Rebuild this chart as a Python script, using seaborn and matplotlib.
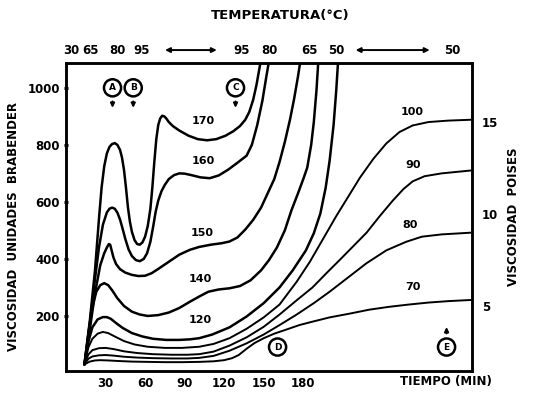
import numpy as np
import pandas as pd
import matplotlib
matplotlib.use("Agg")
import matplotlib.pyplot as plt
import seaborn as sns

# Brabender viscosity curves (time in min, viscosity in Brabender units)
t170 = [14, 18, 22, 25, 27, 29, 31, 33, 35, 37, 39, 41, 42.5, 44, 45.5, 47, 48.5, 50, 52, 54, 56, 58, 60, 62, 64, 65.5, 67, 68.5, 70, 71.5, 73, 74.5, 76, 78, 81, 86, 93, 100, 107, 114, 121, 127, 132, 136, 139, 142, 144.5, 147, 149]
v170 = [30, 180, 360, 540, 650, 725, 770, 793, 803, 806, 800, 782, 755, 712, 650, 580, 530, 495, 466, 452, 450, 458, 478, 515, 575, 650, 740, 820, 870, 893, 902, 900, 893, 880, 866, 850, 832, 820, 816, 820, 832, 848, 866, 888, 915, 958, 1010, 1075, 1130]

t160 = [14, 18, 22, 25, 28, 31, 33, 35, 37, 39, 41, 43, 45, 47.5, 50, 53, 56, 59, 61.5, 64, 66, 68, 70, 72.5, 75, 78, 82, 86, 90, 95, 102, 109, 116, 123, 130, 137, 141, 145, 149, 152, 155]
v160 = [30, 170, 330, 440, 520, 563, 576, 580, 576, 562, 538, 505, 470, 433, 410, 396, 392, 400, 420, 460, 510, 565, 605, 638, 660, 680, 694, 700, 699, 694, 686, 683, 693, 713, 737, 762, 800, 868, 955, 1040, 1120]

t150 = [14, 18, 22, 26, 29, 31, 32.5, 33.5, 34.5, 36, 38, 41, 45, 50, 55, 60, 65, 70, 78, 86, 94, 101, 110, 118, 124, 130, 136, 142, 148, 153, 158, 162, 166, 170, 173, 176, 178]
v150 = [30, 150, 280, 378, 420, 440, 452, 450, 432, 405, 382, 364, 352, 344, 340, 341, 350, 365, 390, 415, 432, 442, 450, 455, 461, 475, 503, 537, 580, 630, 680, 740, 810, 890, 960, 1040, 1100]

t140 = [14, 17, 20, 23, 26, 29, 32, 35, 39, 44, 50, 56, 62, 70, 78, 86, 94, 101, 108, 116, 124, 132, 140, 148, 154, 160, 166, 171, 176, 180, 183, 186, 188, 190, 191.5]
v140 = [30, 140, 230, 285, 308, 315, 308, 290, 262, 235, 215, 205, 200, 203, 212, 228, 250, 268, 285, 293, 297, 305, 325, 360, 396, 440, 500, 570, 630, 680, 720, 800, 880, 990, 1100]

t120 = [14, 17, 20, 24, 28, 31, 34, 38, 43, 50, 58, 66, 76, 86, 94, 101, 111, 124, 137, 150, 162, 172, 182, 188, 193, 197, 200, 203, 205, 206.5]
v120 = [30, 110, 160, 188, 196, 196, 190, 175, 158, 140, 128, 120, 116, 116, 118, 122, 135, 160, 198, 245, 300, 360, 430, 490, 560, 650, 745, 870, 990, 1100]

t100 = [14, 17, 20, 24, 28, 32, 37, 44, 52, 62, 75, 88, 101, 112, 124, 137, 150, 162, 175, 185, 195, 205, 215, 223, 233, 243, 253, 263, 275, 290, 307]
v100 = [30, 90, 120, 138, 144, 140, 128, 112, 100, 92, 88, 88, 92, 102, 122, 155, 195, 240, 320, 390, 470, 550, 625, 685, 750, 805, 845, 868, 880, 885, 888]

t90 = [14, 17, 20, 25, 30, 36, 44, 54, 66, 80, 92, 101, 112, 124, 137, 150, 162, 175, 187, 198, 208, 218, 228, 238, 248, 256, 263, 272, 285, 307]
v90 = [30, 65, 80, 87, 88, 84, 76, 70, 66, 64, 64, 66, 75, 96, 125, 162, 205, 255, 300, 352, 398, 445, 492, 550, 605, 645, 672, 690, 700, 710]

t80 = [14, 17, 20, 25, 30, 36, 44, 54, 66, 80, 92, 101, 112, 124, 137, 150, 162, 175, 188, 200, 214, 228, 243, 258, 270, 285, 307]
v80 = [30, 50, 58, 62, 63, 61, 57, 54, 52, 51, 51, 53, 60, 78, 104, 135, 168, 205, 245, 285, 335, 385, 430, 460, 478, 486, 492]

t70 = [14, 18, 22, 26, 32, 40, 50, 62, 75, 88, 101, 112, 120, 126, 131, 137, 143, 150, 158, 167, 177, 187, 200, 215, 230, 245, 260, 275, 290, 307]
v70 = [30, 40, 44, 45, 44, 42, 40, 39, 38, 38, 39, 41, 45, 52, 63, 85, 105, 122, 138, 152, 168, 180, 195, 208, 222, 232, 240, 247, 252, 256]

curves = {
    "170": (t170, v170), "160": (t160, v160), "150": (t150, v150),
    "140": (t140, v140), "120": (t120, v120), "100": (t100, v100),
    "90": (t90, v90), "80": (t80, v80), "70": (t70, v70),
}

# curve labels: (text, time, viscosity)
curve_labels = [("170", 104, 885), ("160", 104, 745), ("150", 103, 490),
                ("140", 102, 330), ("120", 102, 186), ("100", 263, 914),
                ("90", 263, 728), ("80", 261, 518), ("70", 263, 301)]

# reference points: (letter, time, viscosity, arrow direction)
points = [("A", 35.3, 1000, "down"), ("B", 51, 1000, "down"),
          ("C", 128.6, 1000, "down"), ("D", 160.5, 91, None),
          ("E", 288.7, 91, "up")]

# temperature scale along the top
temp_pos = [4.3, 18.6, 39, 57.3, 133, 154.5, 184.8, 205, 293]
temp_txt = ["30", "65", "80", "95", "95", "80", "65", "50", "50"]
temp_arrows = [(73, 116.5), (217.6, 278)]

x_ticks = [30, 60, 90, 120, 150, 180]
y_ticks = [200, 400, 600, 800, 1000]
poise_ticks = [5, 10, 15]

rows = []
for name, (ts, vs) in curves.items():
    for t, v in zip(ts, vs):
        rows.append({"curva": name, "tiempo": t, "viscosidad": v})
df = pd.DataFrame(rows)

sns.set_style("white")
plt.rcParams["font.family"] = ["DejaVu Sans"]
plt.rcParams["text.color"] = "black"
plt.rcParams["axes.labelcolor"] = "black"
plt.rcParams["xtick.color"] = "black"
plt.rcParams["ytick.color"] = "black"

fig = plt.figure(figsize=(5.33, 3.98), dpi=100)
ax = fig.add_axes([66 / 533, 27 / 398, 406 / 533, 308 / 398])

widths = {k: (1.8 if k in ("170", "160", "150", "140", "120") else 1.4) for k in curves}
sns.lineplot(data=df, x="tiempo", y="viscosidad", hue="curva", size="curva",
             sizes=widths, palette={k: "black" for k in curves},
             estimator=None, sort=False, legend=False, ax=ax)
for ln in ax.lines:
    ln.set_solid_joinstyle("round")
    ln.set_solid_capstyle("round")

ax.set_xlim(0, 308)
ax.set_ylim(7, 1087)
for s in ax.spines.values():
    s.set_linewidth(1.8)
    s.set_color("black")

fw = "heavy"
fs = 8.5
ax.set_xticks(x_ticks)
ax.set_xticklabels([str(v) for v in x_ticks], fontsize=fs, fontweight=fw, color="black")
ax.set_yticks(y_ticks)
ax.set_yticklabels([str(v) for v in y_ticks], fontsize=fs, fontweight=fw, color="black")
ax.tick_params(axis="both", direction="inout", length=3, width=2.2, colors="black", pad=3)
ax.set_xlabel("")
ax.set_ylabel("VISCOSIDAD  UNIDADES  BRABENDER", fontsize=8.5, fontweight=fw, color="black")
ax.yaxis.set_label_coords(-0.114, 0.47)
ax.text(0.935, -0.033, "TIEMPO (MIN)", transform=ax.transAxes, ha="center",
        va="center", fontsize=8.5, fontweight=fw, color="black")

# right-hand poise scale
ax2 = ax.twinx()
ax2.set_ylim(1.47, 18.2)
ax2.set_yticks(poise_ticks)
ax2.set_yticklabels([str(v) for v in poise_ticks], fontsize=fs, fontweight=fw, color="black")
ax2.tick_params(axis="y", length=0, pad=7, colors="black")
ax2.set_ylabel("VISCOSIDAD  POISES", fontsize=8.5, fontweight=fw, rotation=90, color="black")
ax2.yaxis.set_label_coords(1.086, 0.5)
for s in ax2.spines.values():
    s.set_linewidth(1.8)
    s.set_color("black")

for txt, t, v in curve_labels:
    ax.text(t, v, txt, ha="center", va="center", fontsize=8, fontweight=fw, color="black")

for letter, t, v, arrow in points:
    ax.text(t, v, letter, ha="center", va="center", fontsize=6.5, fontweight="bold", color="black",
            bbox=dict(boxstyle="circle,pad=0.45", fc="white", ec="black", lw=1.8))
    if arrow == "down":
        ax.annotate("", xy=(t, v - 80), xytext=(t, v - 38),
                    arrowprops=dict(arrowstyle="-|>", lw=1.4, color="black", mutation_scale=6))
    elif arrow == "up":
        ax.annotate("", xy=(t, v + 80), xytext=(t, v + 38),
                    arrowprops=dict(arrowstyle="-|>", lw=1.4, color="black", mutation_scale=6))

for p, txt in zip(temp_pos, temp_txt):
    ax.text(p, 1.042, txt, transform=ax.get_xaxis_transform(), ha="center",
            va="center", fontsize=fs, fontweight=fw, color="black")
for a, b in temp_arrows:
    ax.annotate("", xy=(b, 1.042), xytext=(a, 1.042), xycoords=ax.get_xaxis_transform(),
                textcoords=ax.get_xaxis_transform(),
                arrowprops=dict(arrowstyle="<|-|>", lw=1.4, color="black", mutation_scale=7))

fig.text(280 / 533, 1 - 15 / 398, "TEMPERATURA(°C)", ha="center", va="center",
         fontsize=9.5, fontweight=fw, color="black")

fig.savefig("out.png", dpi=100, facecolor="white")
